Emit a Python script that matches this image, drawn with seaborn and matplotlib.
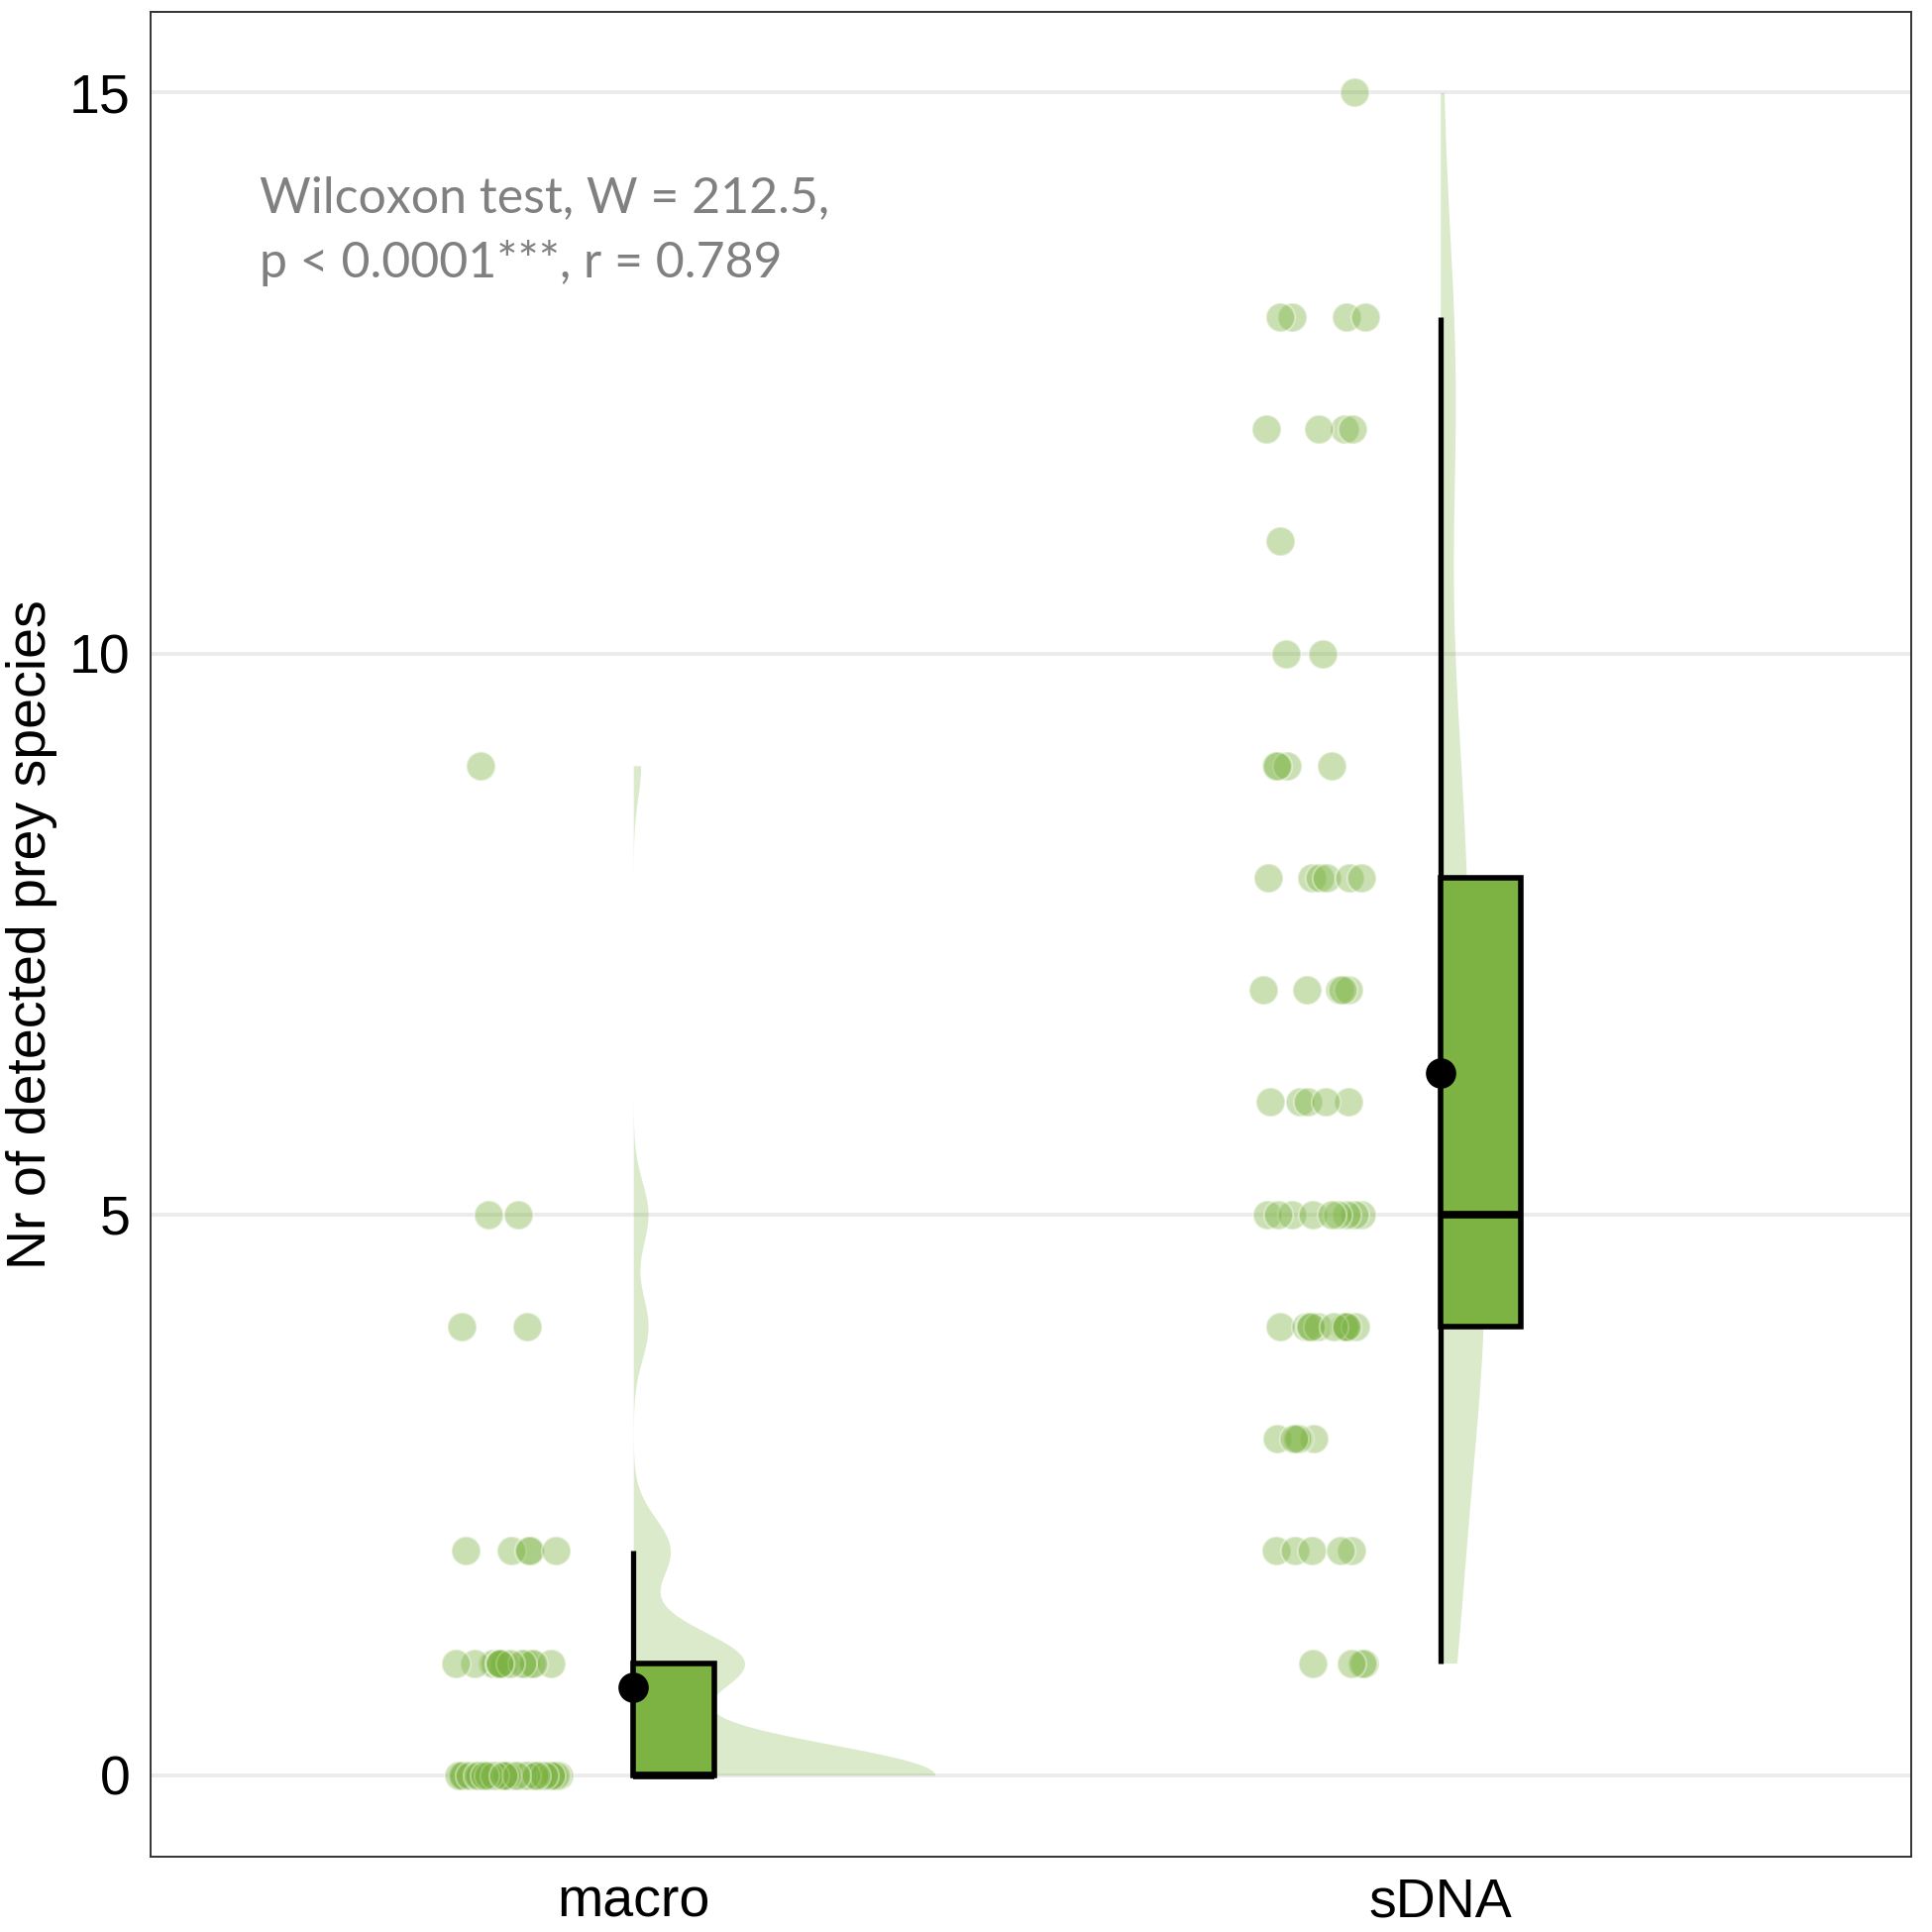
import numpy as np
import pandas as pd
import matplotlib
matplotlib.use("Agg")
import matplotlib.pyplot as plt
import seaborn as sns

# counts per value
methods = ["macro", "sDNA"]
macro_values = [0, 1, 2, 4, 5, 9]
macro_counts = [41, 15, 5, 2, 2, 1]
sdna_values = [1, 2, 3, 4, 5, 6, 7, 8, 9, 10, 11, 12, 13, 15]
sdna_counts = [4, 5, 5, 11, 9, 5, 5, 6, 4, 2, 1, 4, 4, 1]
y_ticks = [0, 5, 10, 15]
stat_text = "Wilcoxon test, W = 212.5,\np < 0.0001***, r = 0.789"

green = "#7cb342"

df = pd.DataFrame({
    "method": np.repeat(methods, [sum(macro_counts), sum(sdna_counts)]),
    "n_prey": np.concatenate([np.repeat(macro_values, macro_counts),
                              np.repeat(sdna_values, sdna_counts)]),
})
df["pos"] = df["method"].map({m: i for i, m in enumerate(methods)})
df["strip_x"] = df["pos"] - 0.155

sns.set_theme(style="whitegrid")
plt.rcParams["font.family"] = ["Liberation Sans", "DejaVu Sans"]

fig = plt.figure(figsize=(19.5, 19.5), dpi=100)
ax = fig.add_axes([0.078, 0.039, 0.911, 0.9546])


def nrd0(x):
    x = np.asarray(x, float)
    hi = x.std(ddof=1)
    iqr = np.subtract(*np.percentile(x, [75, 25]))
    lo = min(hi, iqr / 1.34) or hi or 1.0
    return 0.9 * lo * len(x) ** -0.2


# half violins (trimmed gaussian kde, area scaled)
dens = {}
for m in methods:
    v = df.loc[df["method"] == m, "n_prey"].to_numpy(float)
    bw = nrd0(v)
    grid = np.linspace(v.min(), v.max(), 512)
    d = np.exp(-0.5 * ((grid[:, None] - v[None, :]) / bw) ** 2).sum(1) / (len(v) * bw * np.sqrt(2 * np.pi))
    dens[m] = (grid, d)
dmax = max(d.max() for _, d in dens.values())
for i, m in enumerate(methods):
    grid, d = dens[m]
    ax.fill_betweenx(grid, i, i + d / dmax * 0.374, color=green, alpha=0.27, lw=0, zorder=1)

# jittered points
np.random.seed(7)
sns.stripplot(data=df, x="strip_x", y="n_prey", native_scale=True, orient="x",
              jitter=0.065, size=21, color=green, alpha=0.4,
              edgecolor="white", linewidth=1.5, ax=ax, zorder=2)

# boxes with whisker on left edge
for i, m in enumerate(methods):
    v = df.loc[df["method"] == m, "n_prey"].to_numpy(float)
    q1, q2, q3 = np.percentile(v, [25, 50, 75])
    iqr = q3 - q1
    lo = v[v >= q1 - 1.5 * iqr].min()
    hi = v[v <= q3 + 1.5 * iqr].max()
    ax.vlines(i, lo, hi, color="black", lw=3.8, zorder=3)
    ax.add_patch(plt.Rectangle((i, q1), 0.1, q3 - q1, facecolor=green,
                               edgecolor="black", lw=4, zorder=4))
    ax.hlines(q2, i, i + 0.1, color="black", lw=5.5, zorder=5)

# means
sns.pointplot(data=df, x="pos", y="n_prey", native_scale=True, orient="x",
              estimator="mean", errorbar=None, color="black", linestyle="none",
              marker="o", markersize=20, ax=ax, zorder=6)

ax.text(-0.463, 14.26, stat_text, color="#808080", fontsize=36,
        family=["Lato", "DejaVu Sans"], va="top", ha="left", linespacing=1.5)

ax.set_xlim(-0.598, 1.583)
ax.set_ylim(-0.726, 15.715)
ax.set_xticks([0, 1])
ax.set_xticklabels(methods)
ax.set_yticks(y_ticks)
ax.set_xlabel("")
ax.set_ylabel("Nr of detected prey species", fontsize=40, color="black", labelpad=8)
ax.tick_params(axis="both", labelsize=40, labelcolor="black", length=9, width=1.5,
               color="#333333", direction="out", pad=6)
ax.tick_params(axis="x", pad=6)
ax.grid(axis="x", visible=False)
ax.grid(axis="y", color="#ebebeb", lw=2.8)
for s in ax.spines.values():
    s.set_color("#333333")
    s.set_linewidth(1.4)

fig.savefig("out.png", dpi=100)
